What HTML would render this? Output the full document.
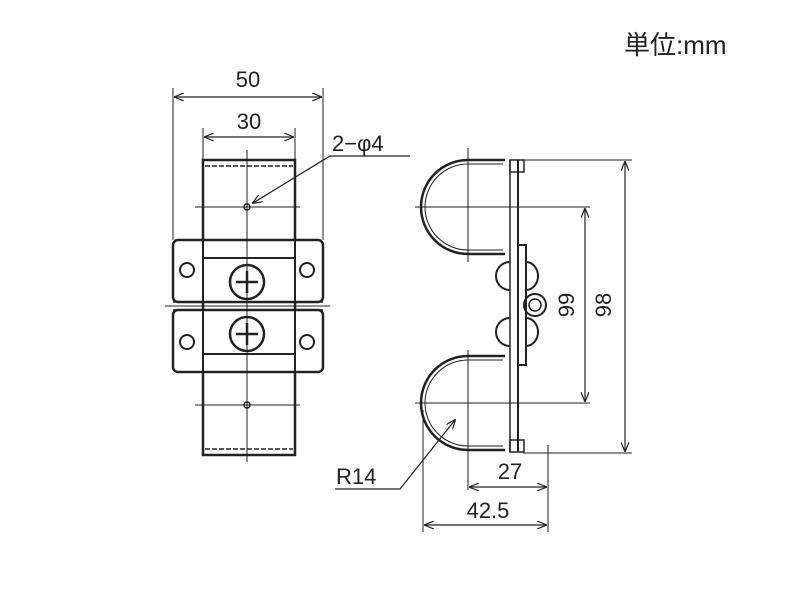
<!DOCTYPE html>
<html><head><meta charset="utf-8"><style>body{margin:0;background:#fff}svg{display:block}</style></head><body>
<svg width="800" height="600" viewBox="0 0 800 600" xmlns="http://www.w3.org/2000/svg" font-family="Liberation Sans, sans-serif">
<defs><marker id="a" markerWidth="10" markerHeight="8" refX="9" refY="4" orient="auto-start-reverse" markerUnits="userSpaceOnUse"><path d="M0,0 L10,4 L0,8" fill="none" stroke="#222" stroke-width="1.2"/></marker></defs>
<text x="624" y="54" font-size="26" font-family="Liberation Sans, Noto Sans CJK JP, sans-serif" fill="#222">単位:mm</text>
<g stroke="#222" fill="none">
<line x1="173" y1="88" x2="173" y2="240" stroke-width="1"/>
<line x1="323" y1="88" x2="323" y2="240" stroke-width="1"/>
<line x1="175" y1="97" x2="321" y2="97" marker-start="url(#a)" marker-end="url(#a)" stroke-width="1.2"/>
<line x1="203" y1="128" x2="203" y2="160" stroke-width="1"/>
<line x1="295" y1="128" x2="295" y2="160" stroke-width="1"/>
<line x1="205" y1="137" x2="293" y2="137" marker-start="url(#a)" marker-end="url(#a)" stroke-width="1.2"/>
<polyline points="410,156 330,156 253,203" marker-end="url(#a)" stroke-width="1.2"/>
<rect x="203" y="160" width="92" height="295" stroke-width="2.5"/>
<line x1="205" y1="166" x2="293" y2="166" stroke-dasharray="5,2" stroke-width="1.5"/>
<line x1="205" y1="449" x2="293" y2="449" stroke-dasharray="5,2" stroke-width="1.5"/>
<line x1="205" y1="250" x2="293" y2="250" stroke-dasharray="5,2" stroke-width="1.5"/>
<line x1="205" y1="362" x2="293" y2="362" stroke-dasharray="5,2" stroke-width="1.5"/>
<rect x="173" y="240" width="150" height="62" rx="5" stroke-width="2.5" fill="#fff"/>
<rect x="173" y="310" width="150" height="62" rx="5" stroke-width="2.5" fill="#fff"/>
<line x1="203" y1="258" x2="295" y2="258" stroke-width="2"/>
<line x1="203" y1="354" x2="295" y2="354" stroke-width="2"/>
<line x1="203" y1="240" x2="203" y2="302" stroke-width="2"/>
<line x1="295" y1="240" x2="295" y2="302" stroke-width="2"/>
<line x1="203" y1="310" x2="203" y2="372" stroke-width="2"/>
<line x1="295" y1="310" x2="295" y2="372" stroke-width="2"/>
<line x1="165" y1="306" x2="330" y2="306" stroke-width="1"/>
<line x1="173" y1="302" x2="323" y2="302" stroke-width="1.5"/>
<line x1="173" y1="310" x2="323" y2="310" stroke-width="1.5"/>
<circle cx="187" cy="270" r="7" stroke-width="2"/><circle cx="307" cy="270" r="7" stroke-width="2"/>
<circle cx="187" cy="342" r="7" stroke-width="2"/><circle cx="307" cy="342" r="7" stroke-width="2"/>
<circle cx="247" cy="282" r="17" stroke-width="2.5"/><circle cx="247" cy="334" r="17" stroke-width="2.5"/>
<path d="M236,282h22M247,271v22M236,334h22M247,323v22" stroke-width="2.5"/>
<line x1="247" y1="150" x2="247" y2="462" stroke-width="1"/>
<line x1="195" y1="207" x2="300" y2="207" stroke-width="1"/>
<line x1="195" y1="405" x2="300" y2="405" stroke-width="1"/>
<circle cx="247" cy="207" r="3" stroke-width="1.5"/><circle cx="247" cy="405" r="3" stroke-width="1.5"/>
<path d="M505,160 H468 A47,47 0 0 0 468,254 H505" stroke-width="2.5"/>
<path d="M503,164 H468 A43,43 0 0 0 468,250 H503" stroke-width="1"/>
<path d="M505,356 H468 A47,47 0 0 0 468,450 H505" stroke-width="2.5"/>
<path d="M503,360 H468 A43,43 0 0 0 468,446 H503" stroke-width="1"/>
<line x1="510" y1="160" x2="510" y2="452" stroke-width="1.5"/>
<line x1="518" y1="160" x2="518" y2="452" stroke-width="2"/>
<rect x="518" y="245" width="8" height="120" stroke-width="2"/>
<rect x="510" y="160" width="14" height="12" stroke-width="1.5"/>
<rect x="510" y="440" width="14" height="12" stroke-width="1.5"/>
<path d="M510,262 A14,14 0 0 0 510,290" stroke-width="2"/><path d="M526,262 A12,14 0 0 1 526,290" stroke-width="2"/>
<path d="M510,318 A14,14 0 0 0 510,346" stroke-width="2"/><path d="M526,318 A12,14 0 0 1 526,346" stroke-width="2"/>
<circle cx="535" cy="305" r="11" stroke-width="2"/><circle cx="535" cy="305" r="6" stroke-width="1.5"/>
<line x1="468" y1="148" x2="468" y2="262" stroke-width="1"/>
<line x1="468" y1="350" x2="468" y2="490" stroke-width="1"/>
<line x1="415" y1="207" x2="590" y2="207" stroke-width="1"/>
<line x1="415" y1="403" x2="590" y2="403" stroke-width="1"/>
<line x1="523" y1="160" x2="632" y2="160" stroke-width="1"/>
<line x1="523" y1="453" x2="632" y2="453" stroke-width="1"/>
<line x1="625" y1="162" x2="625" y2="451" marker-start="url(#a)" marker-end="url(#a)" stroke-width="1.2"/>
<line x1="585" y1="209" x2="585" y2="401" marker-start="url(#a)" marker-end="url(#a)" stroke-width="1.2"/>
<line x1="423" y1="410" x2="423" y2="532" stroke-width="1"/>
<line x1="548" y1="445" x2="548" y2="532" stroke-width="1"/>
<line x1="470" y1="487" x2="546" y2="487" marker-start="url(#a)" marker-end="url(#a)" stroke-width="1.2"/>
<line x1="425" y1="525" x2="546" y2="525" marker-start="url(#a)" marker-end="url(#a)" stroke-width="1.2"/>
<polyline points="335,489 400,489 455,420" marker-end="url(#a)" stroke-width="1.2"/>
</g>
<g fill="#222" font-size="22">
<text x="248" y="87" text-anchor="middle">50</text>
<text x="249" y="129" text-anchor="middle">30</text>
<text x="332" y="151">2−φ4</text>
<text x="510" y="479" text-anchor="middle">27</text>
<text x="488" y="518" text-anchor="middle">42.5</text>
<text x="336" y="484">R14</text>
<text transform="translate(605,305) rotate(-90)" text-anchor="middle" dominant-baseline="middle">98</text>
<text transform="translate(568,305) rotate(-90)" text-anchor="middle" dominant-baseline="middle">99</text>
</g>
</svg>
</body></html>
